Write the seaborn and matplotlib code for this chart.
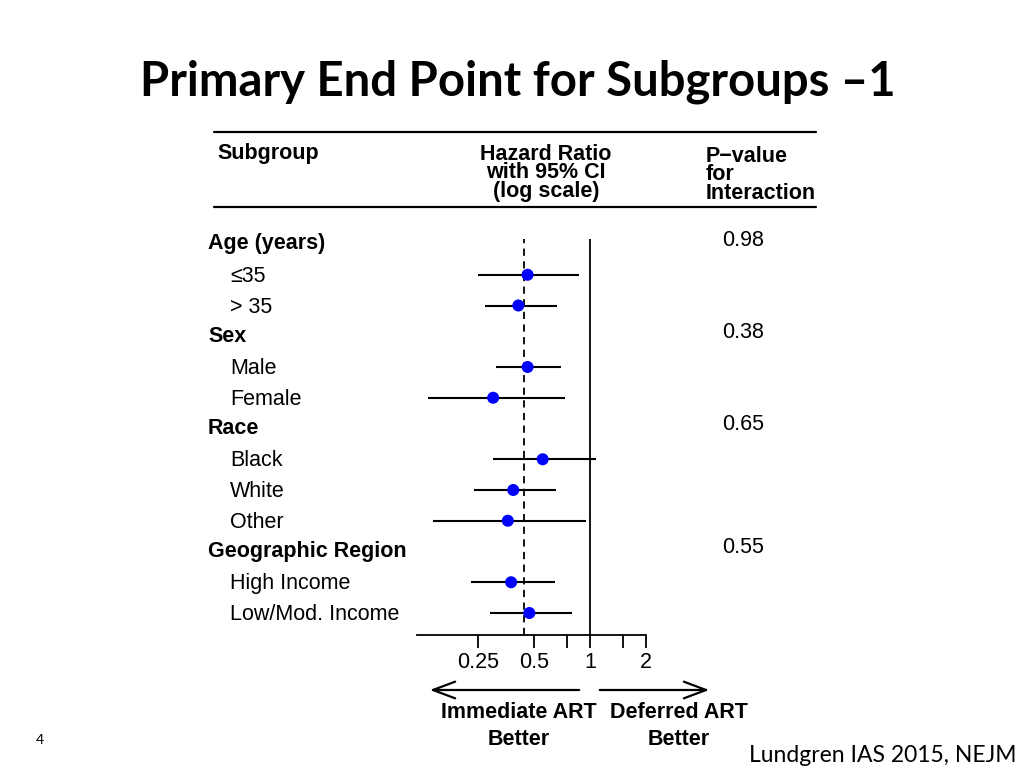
import matplotlib
matplotlib.use("Agg")
import matplotlib.pyplot as plt
import matplotlib.transforms as mtransforms
import seaborn as sns
import pandas as pd
import numpy as np

# ---------------- data ----------------
group_names = ["Age (years)", "Sex", "Race", "Geographic Region"]
group_pvalues = ["0.98", "0.38", "0.65", "0.55"]
subgroup_labels = ["\u226435", "> 35", "Male", "Female", "Black", "White", "Other",
                   "High Income", "Low/Mod. Income"]
subgroup_group = [0, 0, 1, 1, 2, 2, 2, 3, 3]
hazard_ratio = [0.46, 0.41, 0.46, 0.30, 0.555, 0.385, 0.36, 0.375, 0.47]
ci_low = [0.25, 0.27, 0.31, 0.133, 0.30, 0.237, 0.142, 0.228, 0.288]
ci_high = [0.87, 0.665, 0.70, 0.73, 1.07, 0.655, 0.95, 0.647, 0.80]
overall_hr = 0.44
tick_values = [0.25, 0.5, 1, 2]
tick_labels = ["0.25", "0.5", "1", "2"]
minor_tick_values = [0.75, 1.5]

# ---------------- layout rows ----------------
rows = []  # (row index, kind, label, group)
r = 0
for g, name in enumerate(group_names):
    rows.append((r, "header", name, g))
    r += 1
    for i, lab in enumerate(subgroup_labels):
        if subgroup_group[i] == g:
            rows.append((r, "item", lab, i))
            r += 1

item_rows = [row[0] for row in rows if row[1] == "item"]
df = pd.DataFrame({"label": subgroup_labels, "hr": hazard_ratio,
                   "lo": ci_low, "hi": ci_high, "row": item_rows})

sns.set_theme(style="white")
plt.rcParams["font.family"] = ["Liberation Sans", "DejaVu Sans"]
plt.rcParams["text.color"] = "black"
plt.rcParams["xtick.color"] = "black"
plt.rcParams["xtick.labelcolor"] = "black"

W, H = 1024, 768
fig = plt.figure(figsize=(W / 100, H / 100), dpi=100)

def fx(px):
    return px / W

def fy(py):
    return 1 - py / H

# forest axes
ax_left, ax_right, ax_top, ax_bot = 417, 646, 239, 635
ax = fig.add_axes([fx(ax_left), fy(ax_bot), fx(ax_right - ax_left), (ax_bot - ax_top) / H])
ax.set_xscale("log", base=2)
x_min = 2 ** (-3.1)
ax.set_xlim(x_min, 2)
row0_px, step_px = 244, 30.75
ax.set_ylim((ax_bot - row0_px) / step_px, (ax_top - row0_px) / step_px)

ax.hlines(df["row"], df["lo"], df["hi"], color="black", lw=1.5, zorder=2)
sns.scatterplot(data=df, x="hr", y="row", ax=ax, color="#0000FF", s=75,
                edgecolor="none", zorder=3, legend=False)
ax.axvline(1, color="black", lw=1.3, zorder=1)
ax.axvline(overall_hr, color="black", lw=1.3, ls=(0, (4, 3)), zorder=1)

for s in ["top", "right", "left"]:
    ax.spines[s].set_visible(False)
ax.spines["bottom"].set_color("black")
ax.spines["bottom"].set_linewidth(1.3)
ax.set_xticks(tick_values)
ax.set_xticklabels(tick_labels)
ax.set_xticks(minor_tick_values, minor=True)
ax.xaxis.set_minor_formatter(matplotlib.ticker.NullFormatter())
ax.tick_params(axis="x", which="both", direction="out", length=9, width=1.3,
               color="black", labelcolor="black", labelsize=15.5, pad=3, bottom=True)
ax.set_yticks([])
ax.set_xlabel("")
ax.set_ylabel("")
ax.patch.set_alpha(0)

# row labels and p-values
blend = mtransforms.blended_transform_factory(fig.transFigure, ax.transData)
fs = 15.5
for rr, kind, lab, idx in rows:
    if kind == "header":
        fig.text(fx(208), rr, lab, transform=blend, fontsize=fs, fontweight="bold",
                 ha="left", va="center")
        fig.text(fx(722), rr - 0.12, group_pvalues[idx], transform=blend, fontsize=fs,
                 ha="left", va="center")
    else:
        fig.text(fx(230), rr + 0.05, lab, transform=blend, fontsize=fs, ha="left",
                 va="center")

# table header
fig.add_artist(plt.Line2D([fx(214), fx(816)], [fy(132), fy(132)], color="black", lw=1.6))
fig.add_artist(plt.Line2D([fx(214), fx(816)], [fy(207), fy(207)], color="black", lw=1.6))
fig.text(fx(217), fy(154), "Subgroup", fontsize=fs, fontweight="bold", ha="left", va="center")
fig.text(fx(546), fy(173), "Hazard Ratio\nwith 95% CI\n(log scale)", fontsize=fs,
         fontweight="bold", ha="center", va="center", linespacing=0.86)
fig.text(fx(706), fy(175), "P\u2212value\nfor\nInteraction", fontsize=fs,
         fontweight="bold", ha="left", va="center", linespacing=0.86)

# arrows and direction labels
fig.add_artist(matplotlib.patches.FancyArrowPatch((fx(582), fy(690)), (fx(427), fy(690)),
               transform=fig.transFigure, arrowstyle="->,head_length=16,head_width=6",
               color="black", lw=1.6))
fig.add_artist(matplotlib.patches.FancyArrowPatch((fx(597), fy(690)), (fx(712), fy(690)),
               transform=fig.transFigure, arrowstyle="->,head_length=16,head_width=6",
               color="black", lw=1.6))
fig.text(fx(519), fy(726), "Immediate ART\nBetter", fontsize=fs, fontweight="bold",
         ha="center", va="center", linespacing=1.4)
fig.text(fx(679), fy(726), "Deferred ART\nBetter", fontsize=fs, fontweight="bold",
         ha="center", va="center", linespacing=1.4)

# title and slide furniture
fig.text(fx(518), fy(82), "Primary End Point for Subgroups \u20131", fontsize=34,
         fontweight="bold", ha="center", va="center", family=["Lato", "DejaVu Sans"])
fig.text(fx(40), fy(740), "4", fontsize=10, ha="center", va="center",
         family=["Lato", "DejaVu Sans"])
fig.text(fx(749), fy(762), "Lundgren IAS 2015, NEJM", fontsize=16.5, ha="left",
         va="baseline", family=["Lato", "DejaVu Sans"])

fig.savefig("out.png", dpi=100)
